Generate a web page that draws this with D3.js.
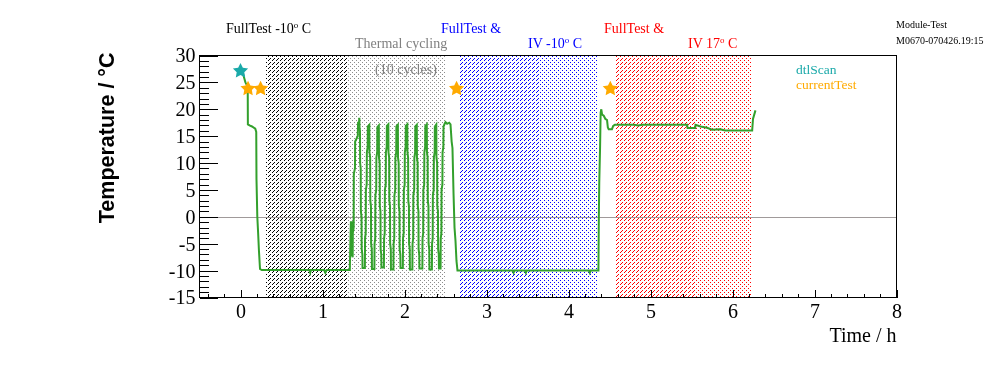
<!DOCTYPE html>
<html>
<head>
<meta charset="utf-8">
<script src="https://cdn.jsdelivr.net/npm/d3@7"></script>
<style>
  html, body { margin: 0; padding: 0; background: #fff; }
  #wrap { position: relative; width: 996px; height: 372px; }
  #wrap canvas, #wrap svg { position: absolute; left: 0; top: 0; display: block; }
</style>
</head>
<body>
<div id="wrap">
<canvas id="tex" width="996" height="372"></canvas>
<svg id="chart" width="996" height="372"></svg>
</div>
<script>
// ---------------- data ----------------
const xDomain = [-0.5, 8];
const yDomain = [-15, 30];
const xMajorTicks = [0, 1, 2, 3, 4, 5, 6, 7, 8];
const yMajorTicks = [-15, -10, -5, 0, 5, 10, 15, 20, 25, 30];

// test phases (hours)
const phaseStarts = [0.31, 1.30, 2.675, 3.65, 4.565, 5.537];
const phaseEnds   = [1.30, 2.51, 3.65, 4.35, 5.537, 6.23];
const phaseKinds  = ["hatch", "dots", "hatch", "dots", "hatch", "dots"];
const phaseColors = ["#000000", "#8c8c8c", "#0000ff", "#0000ff", "#ff0000", "#ff0000"];

// temperature trace [time h, temperature °C]
const tempTrace = [
  [0.030,26.6],[0.045,25.8],[0.060,25.0],[0.088,24.2],[0.090,17.2],[0.110,17.0],[0.140,16.8],
  [0.180,16.4],[0.192,15.8],[0.195,7.0],[0.205,0.0],[0.215,-3.0],[0.225,-6.3],[0.238,-9.7],
  [0.260,-9.9],[0.840,-9.9],[0.850,-10.4],[0.860,-9.9],[1.020,-9.9],[1.035,-10.4],[1.050,-9.9],
  [1.333,-9.9],
  // thermal cycling (10 cycles)
  [1.338,-6],[1.346,-1],[1.356,-1],[1.358,-7],[1.368,-7.5],[1.370,-3],[1.380,-2],[1.382,8],
  [1.396,9],[1.398,14],[1.430,15],[1.434,17.5],[1.446,17.6],[1.449,18.4],[1.452,16.5],[1.457,16],
  [1.459,10],[1.466,9],[1.468,1],[1.476,0],[1.478,-6],[1.486,-7],[1.488,-9.5],
  [1.517,-9.5],[1.519,-4],[1.527,-3],[1.529,5],[1.539,6],[1.541,12],[1.551,13],[1.553,16.8],
  [1.571,17.1],[1.573,12],[1.581,11],[1.583,3],[1.591,2],[1.593,-5],[1.601,-6],[1.603,-9.7],
  [1.633,-9.7],[1.635,-5],[1.643,-4],[1.645,4],[1.655,5],[1.657,11],[1.667,12],[1.669,16.7],
  [1.687,17.0],[1.689,11],[1.697,10],[1.699,2],[1.707,1],[1.709,-6],[1.717,-7],[1.719,-9.4],
  [1.749,-9.4],[1.751,-4],[1.759,-3],[1.761,5],[1.771,6],[1.773,12],[1.783,13],[1.785,16.9],
  [1.803,17.2],[1.805,12],[1.813,11],[1.815,3],[1.823,2],[1.825,-5],[1.833,-6],[1.835,-9.8],
  [1.865,-9.8],[1.867,-5],[1.875,-4],[1.877,4],[1.887,5],[1.889,11],[1.899,12],[1.901,16.8],
  [1.919,17.1],[1.921,11],[1.929,10],[1.931,2],[1.939,1],[1.941,-6],[1.949,-7],[1.951,-9.5],
  [1.980,-9.5],[1.982,-4],[1.990,-3],[1.992,5],[2.002,6],[2.004,12],[2.014,13],[2.016,16.9],
  [2.034,17.2],[2.036,12],[2.044,11],[2.046,3],[2.054,2],[2.056,-5],[2.064,-6],[2.066,-9.8],
  [2.096,-9.8],[2.098,-5],[2.106,-4],[2.108,4],[2.118,5],[2.120,11],[2.130,12],[2.132,16.8],
  [2.150,17.1],[2.152,11],[2.160,10],[2.162,2],[2.170,1],[2.172,-6],[2.180,-7],[2.182,-9.6],
  [2.218,-9.6],[2.220,-4],[2.228,-3],[2.230,5],[2.240,6],[2.242,12],[2.252,13],[2.254,16.9],
  [2.272,17.2],[2.274,12],[2.282,11],[2.284,3],[2.292,2],[2.294,-5],[2.302,-6],[2.304,-9.8],
  [2.334,-9.8],[2.336,-5],[2.344,-4],[2.346,4],[2.356,5],[2.358,11],[2.368,12],[2.370,16.8],
  [2.388,17.2],[2.390,11],[2.398,10],[2.400,2],[2.408,1],[2.410,-6],[2.418,-7],[2.420,-9.6],
  [2.440,-9.6],[2.442,-4],[2.450,-3],[2.452,5],[2.462,6],[2.464,12],[2.474,13],[2.476,16.8],
  [2.490,17.3],[2.500,17.6],[2.520,17.3],[2.545,17.5],[2.561,17.2],[2.575,14],[2.585,12.8],
  [2.598,4.3],[2.610,-2],[2.622,-4.5],[2.634,-8.2],[2.646,-10],
  // cold test
  [3.320,-10],[3.330,-10.4],[3.340,-10],[3.470,-10],[3.480,-10.4],[3.490,-10],[4.250,-10],
  [4.260,-10.4],[4.270,-10],[4.365,-10],
  // warm up & IV 17°C
  [4.370,0],[4.375,6.3],[4.385,12.9],[4.392,19.4],[4.400,20],[4.410,19],[4.430,18.8],[4.450,18.2],
  [4.470,18],[4.480,16.6],[4.490,16.3],[4.530,16.3],[4.545,16.9],[4.565,17.1],[4.800,17.1],
  [4.850,17.0],[4.900,17.1],[5.447,17.1],[5.452,16.5],[5.545,16.5],[5.549,17.1],[5.610,16.8],
  [5.690,16.55],[5.750,16.2],[5.850,16.3],[5.910,16.05],[6.240,16.05],[6.250,18.2],[6.280,19.8]
];

const dtlScanTimes = [0.0];
const dtlScanTemps = [27.3];
const currentTestTimes = [0.092, 0.245, 2.635, 4.51];
const currentTestTemps = [24, 24, 24, 24];

// ---------------- layout ----------------
const svg = d3.select("#chart");
const L = 199.5, R = 896.5, T = 55.5, B = 297.5;
const x = d3.scaleLinear().domain(xDomain).range([L, R]);
const y = d3.scaleLinear().domain(yDomain).range([B, T]);

const colBlue = "#0000ff", colRed = "#ff0000";
const colTeal = "#1aa9a9", colOrange = "#ffaa00", colGreen = "#33a02c";
const serif = "'Liberation Serif', 'Times New Roman', serif";
const sans = "'Liberation Sans', Arial, sans-serif";

// phase regions drawn as pixel textures (hatch / dots) on a canvas under the svg
(function drawPhases() {
  const ctx = document.getElementById("tex").getContext("2d");
  ctx.fillStyle = "#fff";
  ctx.fillRect(0, 0, 996, 372);
  const y0 = Math.ceil(T), y1 = Math.floor(B);
  phaseStarts.forEach((s, i) => {
    const x0 = Math.round(x(s)), x1 = Math.round(x(phaseEnds[i]));
    const c = d3.rgb(phaseColors[i]);
    const img = ctx.getImageData(x0, y0, x1 - x0, y1 - y0);
    for (let py = y0; py < y1; py++) {
      for (let px = x0; px < x1; px++) {
        let on;
        if (phaseKinds[i] === "hatch") on = ((px + py) % 4 === 0) && (py % 4 !== 1);
        else on = (px % 4 === 0 && py % 4 === 0) || (px % 4 === 2 && py % 4 === 2);
        if (on) {
          const k = ((py - y0) * (x1 - x0) + (px - x0)) * 4;
          img.data[k] = c.r; img.data[k + 1] = c.g; img.data[k + 2] = c.b; img.data[k + 3] = 255;
        }
      }
    }
    ctx.putImageData(img, x0, y0);
  });
})();

// zero line
svg.append("line").attr("x1", L).attr("x2", R)
  .attr("y1", Math.round(y(0)) + 0.5).attr("y2", Math.round(y(0)) + 0.5)
  .attr("stroke", "#a09a9a").attr("stroke-width", 1);

// temperature line
svg.append("path").datum(tempTrace)
  .attr("d", d3.line().x((d) => x(d[0])).y((d) => y(d[1])))
  .attr("fill", "none").attr("stroke", colGreen).attr("stroke-width", 2)
  .attr("stroke-linejoin", "miter");

// ROOT-like full star marker
const fatStar = {
  draw(context, size) {
    const r = Math.sqrt(size), ri = r * 0.5;
    for (let k = 0; k < 10; k++) {
      const rr = k % 2 === 0 ? r : ri;
      const a = -Math.PI / 2 + k * Math.PI / 5;
      const px = rr * Math.cos(a), py = rr * Math.sin(a);
      if (k === 0) context.moveTo(px, py); else context.lineTo(px, py);
    }
    context.closePath();
  }
};
const star = d3.symbol().type(fatStar).size(64);
svg.append("g").selectAll("path").data(dtlScanTimes).join("path")
  .attr("d", star)
  .attr("transform", (d, i) => `translate(${x(d)},${y(dtlScanTemps[i]) + 1})`)
  .attr("fill", colTeal);
svg.append("g").selectAll("path").data(currentTestTimes).join("path")
  .attr("d", star)
  .attr("transform", (d, i) => `translate(${x(d)},${y(currentTestTemps[i]) + 1})`)
  .attr("fill", colOrange);

// axes
const plainInt = (d) => String(d);
const yAxisMajor = d3.axisLeft(y).tickValues(yMajorTicks).tickSize(-18).tickPadding(4)
  .tickFormat(plainInt);
const yAxisMinor = d3.axisLeft(y).tickValues(d3.range(yDomain[0], yDomain[1] + 1, 1))
  .tickSize(-9).tickFormat("");
const xAxisMajor = d3.axisBottom(x).tickValues(xMajorTicks).tickSize(-8).tickPadding(6)
  .tickFormat(plainInt);
const xAxisMinor = d3.axisBottom(x)
  .tickValues(d3.range(-4, 81, 2).map((v) => v / 10)).tickSize(-4).tickFormat("");

function styleAxis(g) {
  g.select(".domain").remove();
  g.selectAll("line").attr("stroke", "#000").attr("shape-rendering", "crispEdges");
  g.selectAll("text").style("font-family", serif).style("font-size", "20px").attr("fill", "#000");
}
svg.append("g").attr("transform", `translate(${L},0)`).call(yAxisMinor).call(styleAxis);
svg.append("g").attr("transform", `translate(${L},0)`).call(yAxisMajor).call(styleAxis);
svg.append("g").attr("transform", `translate(0,${B})`).call(xAxisMinor).call(styleAxis);
svg.append("g").attr("transform", `translate(0,${B})`).call(xAxisMajor).call(styleAxis);

// frame
svg.append("rect").attr("x", L).attr("y", T).attr("width", R - L).attr("height", B - T)
  .attr("fill", "none").attr("stroke", "#000").attr("stroke-width", 1);

// axis titles
svg.append("text").attr("x", R).attr("y", 342).attr("text-anchor", "end")
  .style("font-family", serif).style("font-size", "20px").text("Time / h");
svg.append("text").attr("transform", `translate(114,${T - 3}) rotate(-90)`)
  .attr("text-anchor", "end")
  .style("font-family", sans).style("font-weight", "bold").style("font-size", "21.5px")
  .text("Temperature / °C");

// annotations
function label(xp, yp, color, parts, size) {
  const t = svg.append("text").attr("x", xp).attr("y", yp).attr("fill", color)
    .style("font-family", serif).style("font-size", (size || 14) + "px");
  let raised = false;
  parts.forEach((p) => {
    if (p.sup) {
      t.append("tspan").attr("dy", -5).style("font-size", "9px").text(p.sup);
      raised = true;
    } else {
      const s = t.append("tspan").text(p.t);
      if (raised) { s.attr("dy", 5); raised = false; }
    }
  });
  return t;
}
label(226, 33, "#000", [{t: "FullTest -10"}, {sup: "o"}, {t: " C"}]);
label(355, 48, "#808080", [{t: "Thermal cycling"}]);
label(375, 74, "#808080", [{t: "(10 cycles)"}]);
label(441, 33, colBlue, [{t: "FullTest &"}]);
label(528, 48, colBlue, [{t: "IV -10"}, {sup: "o"}, {t: " C"}]);
label(604, 33, colRed, [{t: "FullTest &"}]);
label(688, 48, colRed, [{t: "IV 17"}, {sup: "o"}, {t: " C"}]);
label(896, 28, "#000", [{t: "Module-Test"}], 10);
label(896, 44, "#000", [{t: "M0670-070426.19:15"}], 10);

// legend
label(796, 74, colTeal, [{t: "dtlScan"}], 13.5);
label(796, 89, colOrange, [{t: "currentTest"}], 13.5);
</script>
</body>
</html>
